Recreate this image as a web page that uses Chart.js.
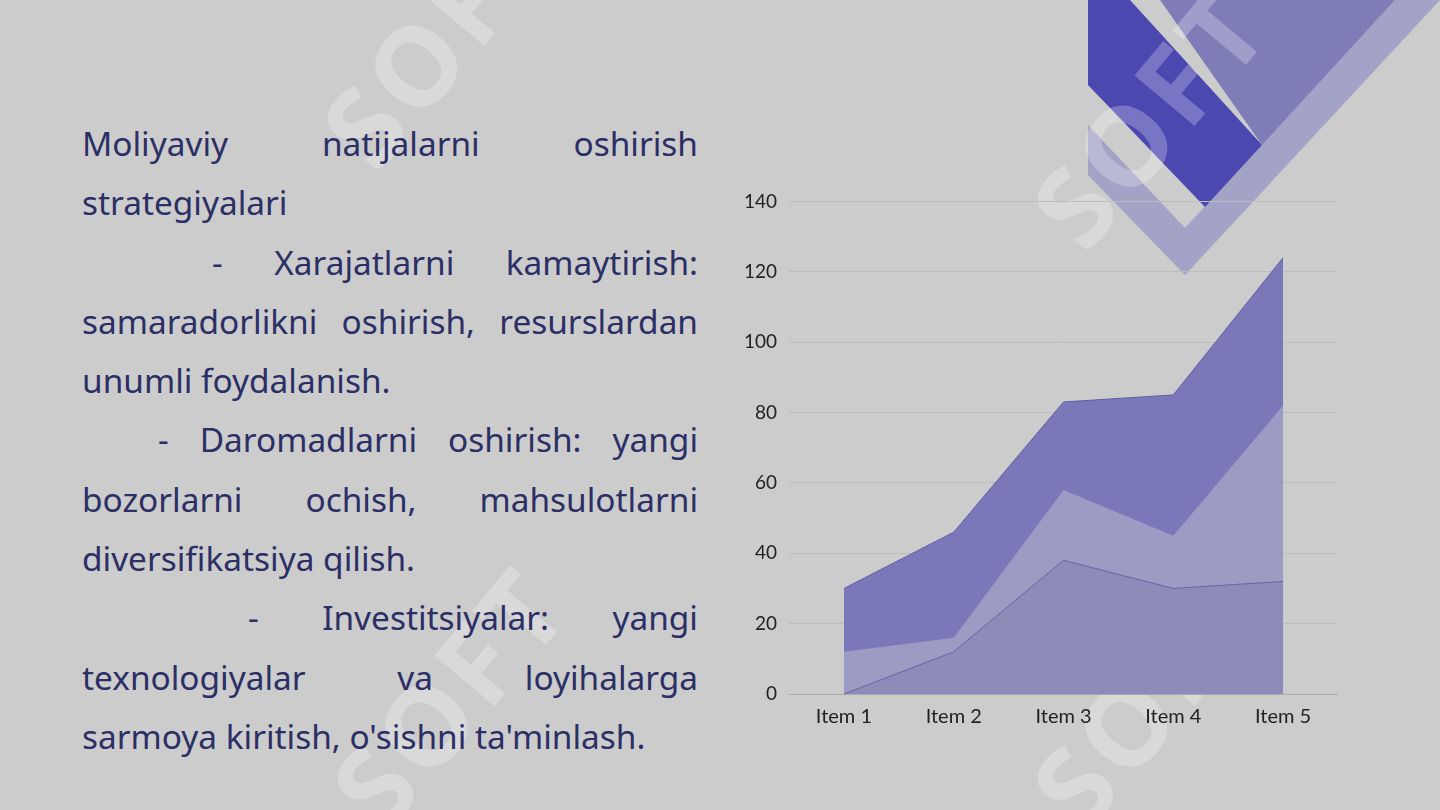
<!DOCTYPE html>
<html>
<head>
<meta charset="utf-8">
<script src="https://cdn.jsdelivr.net/npm/chart.js@4"></script>
<style>
  html, body { margin: 0; padding: 0; }
  body { width: 1440px; height: 810px; background: #cccccc; position: relative; overflow: hidden; font-family: "Noto Sans", sans-serif; }
  #deco { position: absolute; left: 0; top: 0; }
  .wm { position: absolute; color: rgba(255,255,255,0.25); font: bold 110px "Noto Sans", sans-serif; transform: rotate(-50deg); letter-spacing: 6px; }
  #text { position: absolute; left: 82px; top: 114px; width: 616px; color: #2b2f66; font-size: 33.4px; line-height: 59.3px; text-align: justify; }
  #text p { margin: 0; }
  #text p.full { text-align-last: justify; }
  #wrap { position: absolute; left: 732px; top: 178px; width: 606px; height: 554px; }
</style>
</head>
<body>
<svg id="deco" width="1440" height="810">
  <polygon points="1140,0 1440,0 1185,275 1088,175 1088,125 1185,228 1395,0" fill="#9f9dc6" opacity="0.9"/>
  <polygon points="1088,0 1130,0 1262,145 1205,207 1088,85" fill="#4b48b0"/>
  <polygon points="1160,0 1395,0 1262,145" fill="#7f7db8"/>
</svg>
<div class="wm" style="left:290px;top:-40px;">SOFT</div>
<div class="wm" style="left:1000px;top:40px;">SOFT</div>
<div class="wm" style="left:300px;top:620px;">SOFT</div>
<div class="wm" style="left:1000px;top:620px;">SOFT</div>
<div id="text">
  <p>Moliyaviy natijalarni oshirish strategiyalari</p>
  <p style="text-indent:130px">- Xarajatlarni kamaytirish: samaradorlikni oshirish, resurslardan unumli foydalanish.</p>
  <p style="text-indent:76px">- Daromadlarni oshirish: yangi bozorlarni ochish, mahsulotlarni diversifikatsiya qilish.</p>
  <p class="full" style="text-indent:166px">- Investitsiyalar: yangi texnologiyalar va loyihalarga</p>
  <p>sarmoya kiritish, o'sishni ta'minlash.</p>
</div>
<div id="wrap"><canvas id="chart"></canvas></div>
<script>
const categories = ['Item 1', 'Item 2', 'Item 3', 'Item 4', 'Item 5'];
const seriesA = [30, 46, 83, 85, 124];
const seriesB = [12, 16, 58, 45, 82];
const seriesC = [0, 12, 38, 30, 32];
const yTicks = [0, 20, 40, 60, 80, 100, 120, 140];

new Chart(document.getElementById('chart'), {
    type: 'line',
    data: {
        labels: categories,
        datasets: [
            { data: seriesC, fill: 'origin', backgroundColor: '#8d8cb9', borderColor: '#6664a6', borderWidth: 1, pointRadius: 0, tension: 0 },
            { data: seriesB, fill: 'origin', backgroundColor: '#9c9bc4', borderColor: '#9c9bc4', borderWidth: 0, pointRadius: 0, tension: 0 },
            { data: seriesA, fill: 'origin', backgroundColor: '#7a78b9', borderColor: '#5f5da3', borderWidth: 1, pointRadius: 0, tension: 0 }
        ]
    },
    options: {
        responsive: true,
        maintainAspectRatio: false,
        animation: false,
        plugins: { legend: { display: false }, tooltip: { enabled: false } },
        scales: {
            x: {
                offset: true,
                grid: { display: false },
                border: { color: '#aaaaaa' },
                ticks: { color: '#222', font: { family: 'Lato', size: 20 } }
            },
            y: {
                min: 0, max: 140,
                afterBuildTicks: axis => { axis.ticks = yTicks.map(v => ({ value: v })); },
                grid: { color: '#bdbdbd', drawTicks: false },
                border: { display: false },
                ticks: { color: '#222', padding: 12, font: { family: 'Lato', size: 19 } }
            }
        }
    }
});
</script>
</body>
</html>
